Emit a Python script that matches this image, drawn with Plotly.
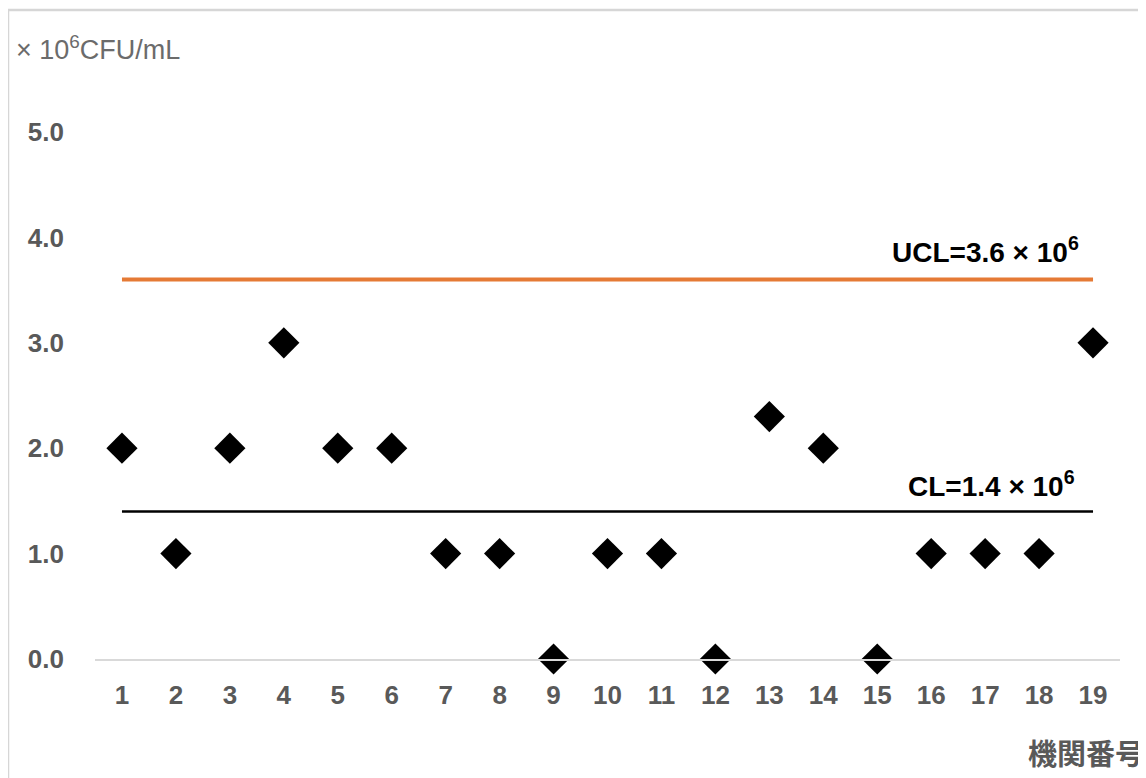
import plotly.graph_objects as go

institutions = list(range(1, 20))
values = [2, 1, 2, 3, 2, 2, 1, 1, 0, 1, 1, 0, 2.3, 2, 0, 1, 1, 1, 3]
UCL = 3.6
CL = 1.4
y_ticks = [0, 1, 2, 3, 4, 5]
y_tick_text = ["0.0", "1.0", "2.0", "3.0", "4.0", "5.0"]

OFF = 8  # page body margin
W, H = 1146 - OFF, 778 - OFF
L, R, T, B = 95 - OFF, 26, 132 - OFF, 119
pw, ph = W - L - R, H - T - B

def px(xp):
    return (xp - OFF - L) / pw

def py(yp):
    return (H - B - (yp - OFF)) / ph

fig = go.Figure()
fig.add_trace(go.Scatter(x=[institutions[0], institutions[-1]], y=[UCL, UCL], mode="lines",
                         line=dict(color="#E57A35", width=4), hoverinfo="skip"))
fig.add_trace(go.Scatter(x=[institutions[0], institutions[-1]], y=[CL, CL], mode="lines",
                         line=dict(color="#000000", width=2.5), hoverinfo="skip"))
fig.add_trace(go.Scatter(x=institutions, y=values, mode="markers",
                         marker=dict(symbol="diamond", size=24, color="#000000"),
                         cliponaxis=False))

fig.add_annotation(x=institutions[-1], y=UCL, xref="x", yref="y", text="<b>UCL=3.6 × 10<sup>6</sup></b>",
                   showarrow=False, xanchor="right", yanchor="middle", xshift=-12, yshift=30,
                   font=dict(size=28, color="#000000", family="Liberation Sans"))
fig.add_annotation(x=institutions[-1], y=CL, xref="x", yref="y", text="<b>CL=1.4 × 10<sup>6</sup></b>",
                   showarrow=False, xanchor="right", yanchor="middle", xshift=-16, yshift=27,
                   font=dict(size=28, color="#000000", family="Liberation Sans"))
fig.add_annotation(x=px(14), y=py(48), xref="paper", yref="paper", text="× 10<sup>6</sup>CFU/mL",
                   showarrow=False, xanchor="left", yanchor="middle",
                   font=dict(size=27, color="#6b6b6b", family="Liberation Sans"))
fig.add_annotation(x=px(1146), y=py(752), xref="paper", yref="paper", text="<b>機関番号</b>",
                   showarrow=False, xanchor="right", yanchor="middle",
                   font=dict(size=29, color="#595959", family="Noto Sans CJK JP"))

fig.add_shape(type="rect", xref="paper", yref="paper",
              x0=px(8), x1=px(1170), y0=py(10), y1=py(810),
              line=dict(color="#d6d6d6", width=2.5), layer="below")

fig.update_layout(
    width=W, height=H,
    margin=dict(l=L, r=R, t=T, b=B),
    paper_bgcolor="white", plot_bgcolor="white",
    showlegend=False,
    font=dict(family="Liberation Sans", color="#595959"),
    xaxis=dict(range=[0.5, 19.5], tickvals=institutions, ticktext=[str(i) for i in institutions],
               showgrid=False, zeroline=False, showline=True, linecolor="#d9d9d9", linewidth=2,
               ticks="", ticklabelstandoff=12,
               tickfont=dict(size=26, color="#595959", weight="bold")),
    yaxis=dict(range=[0, 5], tickvals=y_ticks, ticktext=y_tick_text,
               showgrid=False, zeroline=False, showline=False, ticks="",
               ticklabelstandoff=30,
               tickfont=dict(size=26, color="#595959", weight="bold")),
)

fig.write_html("out.html")
